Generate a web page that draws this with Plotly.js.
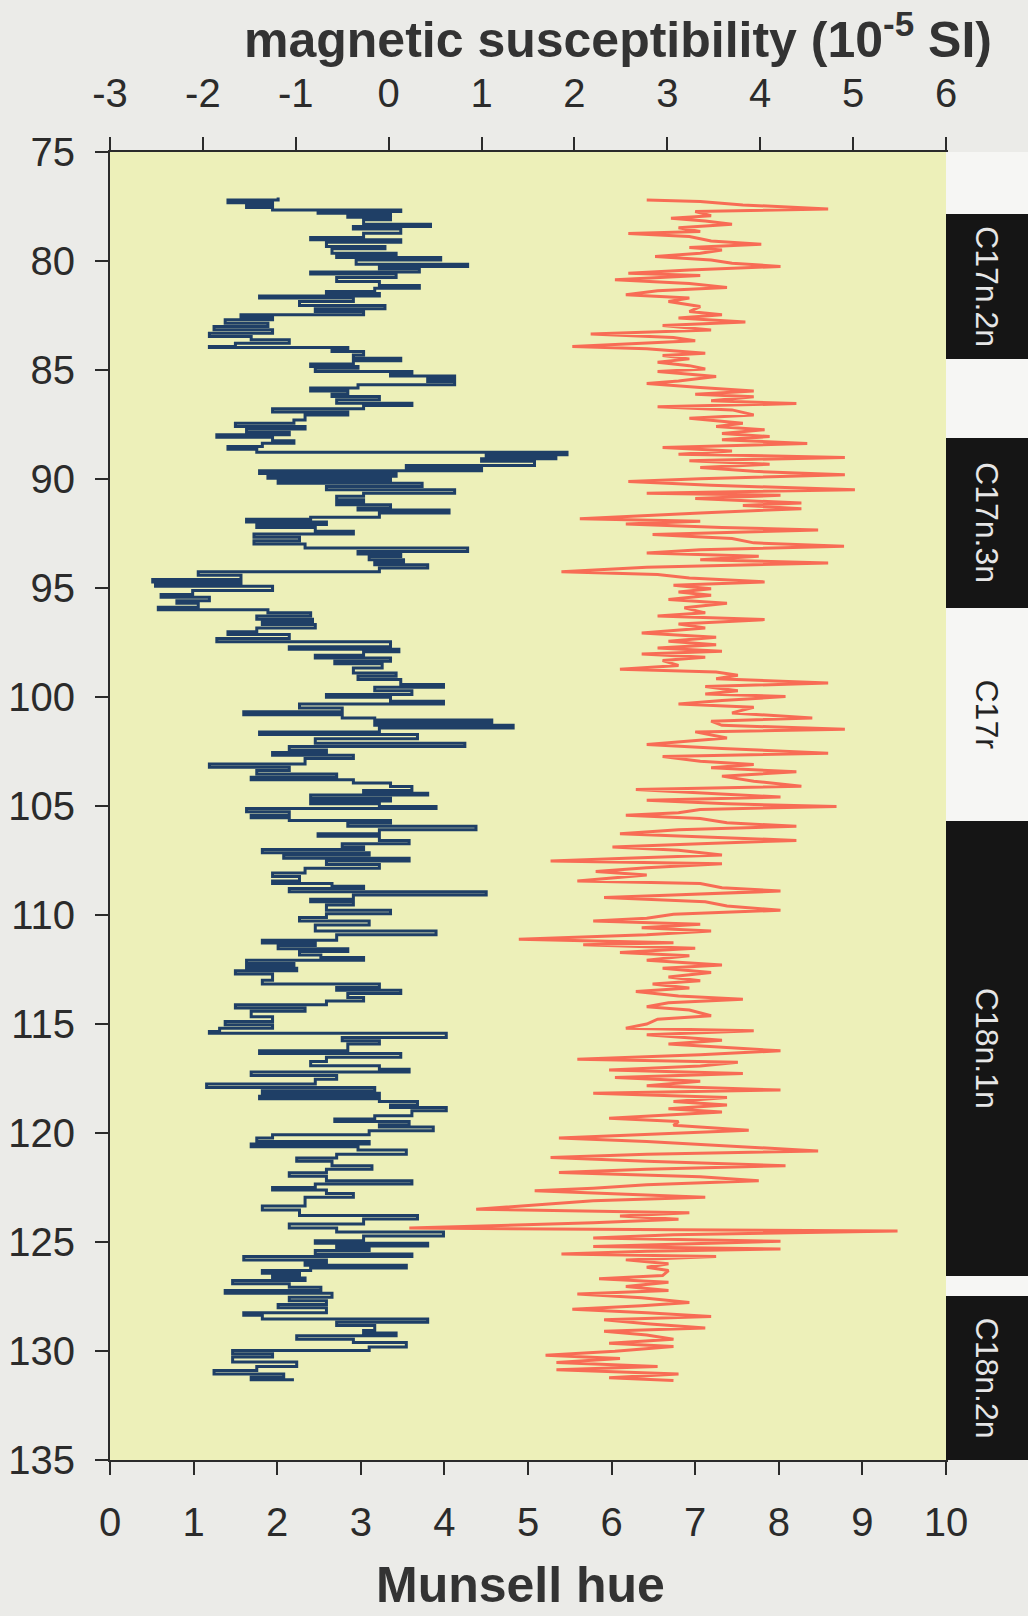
<!DOCTYPE html>
<html>
<head>
<meta charset="utf-8">
<script src="https://cdn.plot.ly/plotly-3.0.1.min.js"></script>
<style>
  html, body { margin: 0; padding: 0; background: #ebebe8; }
  #chart { width: 1028px; height: 1616px; }
</style>
</head>
<body>
<div id="chart"></div>
<script>
// Magnetic susceptibility (10^-5 SI) against depth (m)
const suscDepth = [
  77.09,77.20,77.33,77.42,77.55,77.66,77.73,77.81,77.92,77.99,78.11,78.31,78.42,78.53,78.73,78.92,79.03,79.14,79.34,79.44,79.64,79.75,79.84,79.95,80.15,80.25,80.36,80.51,80.60,80.76,80.94,81.12,81.25,81.40,81.49,81.60,81.70,81.86,82.04,82.19,82.32,82.47,82.59,82.70,82.85,83.00,83.15,83.31,83.46,83.61,83.77,
  83.92,83.97,84.08,84.15,84.31,84.46,84.58,84.73,84.84,84.92,85.07,85.19,85.28,85.41,85.53,85.68,85.83,85.96,86.11,86.22,86.37,86.52,86.63,86.78,86.93,87.06,87.29,87.44,87.59,87.71,87.85,87.97,88.09,88.25,88.36,88.51,88.63,88.77,88.89,88.98,89.07,89.19,89.38,89.50,89.62,89.75,89.87,89.96,90.08,90.20,90.34,90.49,90.65,
  90.79,90.95,91.05,91.18,91.33,91.42,91.56,91.76,91.85,91.97,92.09,92.22,92.40,92.52,92.67,92.83,92.98,93.16,93.32,93.44,93.56,93.70,93.80,93.93,94.08,94.26,94.42,94.61,94.72,94.84,94.92,95.12,95.30,95.42,95.58,95.70,95.88,96.00,96.13,96.28,96.43,96.55,96.68,96.83,97.01,97.13,97.32,97.47,
  97.69,97.81,97.93,98.09,98.21,98.36,98.48,98.67,98.90,99.05,99.20,99.43,99.55,99.71,99.89,100.01,100.20,100.32,100.50,100.68,100.81,100.96,101.05,101.17,101.30,101.42,101.60,101.72,101.91,102.12,102.27,102.43,102.55,102.67,102.82,103.07,103.22,103.37,103.53,103.68,103.80,103.95,104.11,104.29,104.41,
  104.50,104.65,104.77,104.90,105.02,105.11,105.26,105.42,105.54,105.66,105.78,105.93,106.09,106.27,106.39,106.58,106.73,106.88,107.00,107.14,107.25,107.40,107.52,107.68,107.86,108.07,108.23,108.44,108.56,108.68,108.78,108.93,109.08,109.28,109.39,109.54,109.78,109.94,110.12,110.27,110.46,110.73,110.91,111.16,111.28,
  111.40,111.55,111.67,111.83,111.95,112.07,112.22,112.35,112.44,112.56,112.71,112.99,113.17,113.32,113.45,113.60,113.78,113.94,114.12,114.27,114.42,114.67,114.88,115.04,115.19,115.34,115.43,115.62,115.77,115.92,116.23,116.35,116.53,116.72,116.91,117.08,117.20,117.36,117.54,117.75,117.91,118.06,118.18,
  118.31,118.43,118.55,118.71,118.83,118.98,119.21,119.36,119.47,119.62,119.72,119.90,120.08,120.23,120.39,120.51,120.63,120.78,120.97,121.15,121.30,121.50,121.66,121.82,121.98,122.19,122.34,122.50,122.62,122.77,122.95,123.35,123.53,123.79,123.95,124.18,124.36,124.54,124.73,124.94,
  125.06,125.18,125.27,125.39,125.55,125.67,125.82,125.94,126.07,126.19,126.31,126.43,126.55,126.65,126.77,126.92,127.07,127.23,127.35,127.53,127.69,127.87,128.02,128.24,128.36,128.53,128.68,128.83,129.06,129.18,129.30,129.46,129.61,129.82,129.98,130.13,130.28,130.51,130.71,130.89,131.05,131.20,131.32
];
const suscValue = [
  -1.19,-1.73,-1.25,-1.53,-1.25,0.13,-0.76,0.02,-0.44,0.02,-0.27,0.45,-0.38,0.13,-0.27,-0.84,0.13,-0.67,-0.04,-0.61,0.08,-0.56,0.56,-0.35,0.85,-0.10,0.33,-0.84,0.08,-0.56,-0.10,0.33,-0.15,-0.67,-0.10,-1.39,-0.38,-0.96,-0.04,-0.79,-0.27,-1.59,-1.25,-1.76,-1.30,-1.88,-1.25,-1.93,-1.48,-1.07,-1.65,
  -1.93,-0.44,-0.61,-0.27,-0.38,0.13,-0.38,-0.84,-0.33,-0.79,0.25,0.02,0.71,0.42,0.71,-0.33,-0.84,-0.44,-0.61,-0.10,-0.56,0.25,-0.27,-1.25,-0.44,-0.90,-1.02,-1.65,-0.90,-1.53,-1.07,-1.85,-1.25,-1.02,-1.36,-1.73,-1.42,1.92,1.05,1.80,1.00,1.57,0.19,1.00,-1.39,0.08,-1.30,0.02,-1.19,0.36,-0.67,0.71,-0.27,
  -0.56,-0.27,-0.56,0.02,-0.33,0.65,-0.10,-0.84,-1.53,-0.67,-1.42,-0.79,-0.38,-1.45,-0.96,-1.45,-0.90,0.85,-0.33,0.13,-0.21,0.16,-0.15,0.42,-0.10,-2.05,-1.59,-2.54,-1.59,-2.51,-1.25,-2.11,-2.45,-1.93,-2.28,-2.05,-2.48,-1.30,-0.84,-1.42,-0.82,-1.36,-0.79,-1.42,-1.73,-1.07,-1.85,0.02,
  -1.07,0.11,-0.27,-0.79,0.02,-0.58,-0.07,-0.38,0.08,-0.33,0.13,0.59,-0.15,0.25,-0.67,0.02,0.59,-0.96,-0.50,-1.56,-0.50,-0.15,1.11,-0.15,1.34,-0.10,-1.39,0.31,-0.79,0.82,-1.07,-0.67,-1.25,-0.38,-0.90,-1.93,-1.07,-1.42,-0.56,-1.48,-0.38,0.02,0.25,-0.27,0.42,
  -0.84,0.02,-0.84,-0.10,0.51,-1.53,-1.07,-1.48,-1.07,0.02,-0.44,0.94,-0.10,-0.76,-0.10,0.22,-0.50,-0.27,-1.36,-0.21,-1.13,0.22,-0.67,-0.10,-0.90,-1.25,-0.96,-1.25,-0.61,-0.27,-1.07,1.05,-0.38,-0.84,-0.38,-0.67,0.02,-0.67,-0.96,-0.21,-0.79,0.51,-0.56,-1.36,-0.79,
  -1.19,-0.44,-0.96,-0.73,-0.27,-1.53,-1.02,-1.53,-0.99,-1.65,-1.25,-1.36,-0.10,-0.56,0.13,-0.44,-0.27,-0.67,-1.65,-0.90,-1.48,-1.25,-1.76,-1.25,-1.82,-1.93,0.62,-0.50,-0.10,-0.44,-1.39,0.13,-0.67,-0.84,-0.10,0.22,-1.48,-0.56,-0.79,-1.96,-0.15,-1.36,-0.10,
  -1.39,-0.10,0.31,0.02,0.62,0.25,-0.15,-0.58,0.22,-0.10,0.48,-0.21,-1.25,-1.42,-0.21,-1.48,-0.33,0.19,-0.56,-0.99,-0.61,-0.18,-0.67,-1.07,-0.67,0.25,-0.79,-1.25,-0.67,-0.38,-0.90,-1.36,-0.96,0.31,-0.27,-1.07,-0.56,0.59,-0.27,-0.79,
  0.42,-0.56,-0.21,-0.79,0.25,-1.56,-0.67,-0.90,0.19,-0.84,-1.36,-0.96,-1.25,-0.90,-1.68,-1.07,-0.73,-1.76,-0.61,-1.07,-0.67,-1.19,-0.67,-1.56,-1.36,0.42,-0.56,-0.15,-0.27,0.08,-0.99,-0.38,0.19,-0.21,-1.68,-1.25,-1.68,-0.99,-1.42,-1.88,-1.13,-1.48,-1.02
];

// Munsell hue against depth (m)
const hueDepth = [
  77.20,77.27,77.43,77.61,77.73,77.92,78.04,78.16,78.31,78.47,78.65,78.74,78.88,79.08,79.23,79.38,79.50,79.64,79.79,79.95,80.10,80.25,80.41,80.56,80.67,80.86,81.03,81.21,81.37,81.55,81.70,81.86,82.09,82.32,82.47,82.62,82.80,82.96,83.16,83.35,83.51,
  83.66,83.92,84.03,84.23,84.34,84.49,84.64,84.80,84.95,85.07,85.30,85.50,85.62,85.80,85.96,86.11,86.23,86.41,86.54,86.69,86.83,87.06,87.21,87.44,87.59,87.74,87.91,88.05,88.20,88.37,88.55,88.71,88.86,89.01,89.16,89.32,89.47,89.65,89.81,89.99,90.11,90.29,90.49,90.65,
  90.75,90.90,91.10,91.21,91.36,91.56,91.82,91.94,92.06,92.22,92.34,92.55,92.73,92.93,93.09,93.25,93.39,93.54,93.70,93.85,94.05,94.26,94.38,94.54,94.72,94.87,95.03,95.18,95.33,95.53,95.70,95.91,96.14,96.29,96.45,96.65,96.83,97.06,97.26,97.44,
  97.60,97.75,97.90,98.03,98.18,98.33,98.55,98.73,98.85,99.00,99.16,99.36,99.52,99.71,99.86,99.98,100.16,100.32,100.47,100.73,100.96,101.11,101.30,101.48,101.60,101.88,102.18,102.36,102.58,102.73,102.95,103.10,103.25,103.43,103.63,103.86,104.09,104.24,104.40,
  104.59,104.74,104.90,105.02,105.16,105.31,105.42,105.57,105.77,105.93,106.09,106.27,106.42,106.58,106.73,106.88,107.03,107.25,107.40,107.52,107.65,107.83,108.01,108.17,108.44,108.56,108.75,108.90,109.08,109.20,109.39,109.59,109.78,109.97,110.15,110.27,110.43,110.58,110.73,110.91,111.11,111.27,
  111.37,111.52,111.72,111.87,112.07,112.29,112.44,112.64,112.84,113.02,113.17,113.35,113.51,113.71,113.87,114.03,114.21,114.36,114.62,114.78,115.00,115.19,115.31,115.49,115.74,115.92,116.23,116.41,116.62,116.76,116.93,117.11,117.27,117.45,117.63,117.83,118.03,118.18,
  118.37,118.55,118.71,118.89,119.04,119.32,119.47,119.65,119.87,120.05,120.23,120.39,120.59,120.82,120.97,121.12,121.30,121.50,121.66,121.81,122.01,122.19,122.37,122.53,122.65,122.80,122.95,123.11,123.26,123.50,123.66,123.81,123.96,124.12,124.36,124.50,124.67,124.82,124.97,
  125.21,125.32,125.42,125.55,125.67,125.82,126.00,126.16,126.31,126.54,126.69,126.85,127.04,127.23,127.38,127.56,127.78,127.93,128.08,128.24,128.42,128.57,128.75,128.94,129.09,129.27,129.46,129.64,129.79,130.01,130.19,130.34,130.53,130.71,130.86,131.05,131.23,131.35
];
const hueValue = [
  6.42,7.06,7.57,8.59,7.00,7.19,6.71,7.12,7.44,6.80,7.06,6.20,6.93,7.19,7.79,6.93,7.32,7.06,6.52,7.19,7.44,8.02,6.93,6.20,7.06,6.04,6.93,7.38,6.55,6.17,6.93,6.68,7.06,6.93,7.32,6.80,7.60,6.61,7.19,5.75,6.74,
  7.00,5.53,6.42,7.12,6.61,6.93,6.55,6.93,7.12,6.55,7.25,6.80,6.42,7.06,7.70,7.00,7.70,7.19,8.21,6.55,7.44,7.70,6.93,7.57,7.25,7.83,7.32,7.89,7.32,8.34,6.61,7.44,6.80,8.79,6.93,7.89,7.06,7.70,8.79,7.06,6.20,7.19,8.91,6.42,
  8.02,7.00,8.27,7.57,8.27,7.06,5.62,7.06,6.17,7.32,8.47,6.49,7.44,7.70,8.78,7.06,6.42,7.76,7.06,8.59,6.42,5.40,6.55,6.93,7.83,6.74,7.19,6.80,7.19,6.68,7.38,6.87,7.12,6.55,7.83,6.80,7.12,6.36,7.25,6.68,
  7.25,6.55,7.32,6.36,7.12,6.61,6.80,6.10,7.25,7.51,7.25,8.59,7.12,7.51,7.12,8.08,7.32,6.80,7.70,7.44,8.40,7.19,7.32,8.79,7.00,7.38,6.42,7.32,8.59,6.61,7.06,7.70,7.19,8.21,7.32,7.70,8.27,6.29,7.06,
  8.02,6.42,7.38,8.69,7.06,6.80,6.17,7.06,7.38,8.21,6.80,6.10,7.06,8.21,7.06,6.01,6.80,7.32,6.17,5.27,7.32,6.42,5.81,6.42,5.59,7.06,7.32,8.02,6.74,5.91,7.12,7.38,8.02,6.74,6.42,5.78,7.06,6.36,7.19,6.42,4.89,6.74,
  5.66,7.00,6.10,6.93,6.42,7.32,6.61,7.19,6.68,7.06,6.49,6.93,6.29,6.80,7.57,6.68,6.42,6.93,7.19,6.55,6.42,6.17,7.70,6.42,7.32,6.68,8.02,7.06,5.59,7.51,7.06,5.97,7.57,6.04,7.06,6.42,8.02,5.78,
  7.38,6.74,7.38,6.68,7.32,5.97,6.80,6.74,7.64,6.42,5.37,6.42,7.38,8.47,6.42,5.27,6.42,8.08,6.42,5.37,7.06,7.76,6.42,5.78,5.08,6.10,7.12,5.78,5.27,4.38,6.93,6.10,6.80,5.78,3.58,9.42,6.74,5.78,8.02,
  5.78,8.02,6.42,5.40,7.25,6.17,6.68,6.42,6.68,6.61,5.85,6.68,6.17,6.68,5.59,6.36,6.93,6.36,5.53,6.42,7.19,5.91,6.42,7.12,5.91,6.42,6.74,5.97,6.74,6.04,5.21,6.10,5.34,6.55,5.34,6.80,5.97,6.74
];

// Magnetic polarity zones (depth in m); unnamed entries are reversed intervals
const chronName  = ['',    'C17n.2n', '',    'C17n.3n', 'C17r', 'C18n.1n', '',     'C18n.2n'];
const chronTop   = [75.00, 77.84,     84.50, 88.10,     95.90,  105.69,    126.54, 127.48];
const chronBase  = [77.84, 84.50,     88.10, 95.90,     105.69, 126.54,    127.48, 135.00];
const chronNormal = [false, true,     false, true,      false,  true,      false,  true];

// Axis ticks
const depthTicks = [75, 80, 85, 90, 95, 100, 105, 110, 115, 120, 125, 130, 135];
const hueTicks = [0, 1, 2, 3, 4, 5, 6, 7, 8, 9, 10];
const suscTicks = [-3, -2, -1, 0, 1, 2, 3, 4, 5, 6];
const suscTickText = ['-3', '-2', '-1', '0', '1', '2', '3', '4', '5', '6'];

const ink = '#2b2b2b';
const tickFont = { family: 'Liberation Sans, Arial, sans-serif', size: 40, color: ink };
const titleFont = { family: 'Liberation Sans, Arial, sans-serif', size: 50, color: '#333333' };

const suscTrace = {
  type: 'scatter', mode: 'lines',
  x: suscValue, y: suscDepth,
  xaxis: 'x2', yaxis: 'y',
  line: { color: '#1f3f66', width: 3, shape: 'vh' },
  hoverinfo: 'skip'
};

const hueTrace = {
  type: 'scatter', mode: 'lines',
  x: hueValue, y: hueDepth,
  xaxis: 'x', yaxis: 'y',
  line: { color: '#f86c55', width: 3 },
  hoverinfo: 'skip'
};

// Polarity column: one bar trace for the named zones, one for the unnamed gaps
function polarityBars(indices, withText) {
  const trace = {
    type: 'bar',
    xaxis: 'x3', yaxis: 'y',
    x: indices.map(() => 0),
    base: indices.map(i => chronTop[i]),
    y: indices.map(i => chronBase[i] - chronTop[i]),
    width: 1,
    marker: { color: indices.map(i => chronNormal[i] ? '#151515' : '#f6f6f4'), line: { width: 0 } },
    hoverinfo: 'skip'
  };
  if (withText) {
    Object.assign(trace, {
      text: indices.map(i => chronName[i]),
      textposition: 'inside',
      insidetextanchor: 'middle',
      textangle: 90,
      constraintext: 'none',
      textfont: {
        family: 'Liberation Sans, Arial, sans-serif', size: 32,
        color: indices.map(i => chronNormal[i] ? '#e6e6e6' : '#222222')
      }
    });
  } else {
    trace.textposition = 'none';
  }
  return trace;
}
const allZones = chronName.map((_, i) => i);
const namedZones = allZones.filter(i => chronName[i] !== '');
const unnamedZones = allZones.filter(i => chronName[i] === '');

const axisCommon = {
  ticks: 'outside', tickwidth: 2, tickcolor: ink,
  showline: true, linewidth: 2, linecolor: ink,
  showgrid: false, zeroline: false,
  tickfont: tickFont, fixedrange: true
};

const layout = {
  width: 1028, height: 1616,
  margin: { l: 110, r: 0, t: 152, b: 156, pad: 0 },
  paper_bgcolor: '#ebebe8',
  plot_bgcolor: '#edf0b9',
  showlegend: false,
  barmode: 'overlay', bargap: 0,
  xaxis: Object.assign({}, axisCommon, {
    domain: [0, 0.9107], range: [0, 10], anchor: 'y', side: 'bottom',
    tickvals: hueTicks, ticklen: 13, ticklabelstandoff: 13
  }),
  xaxis2: Object.assign({}, axisCommon, {
    overlaying: 'x', range: [-3, 6], anchor: 'y', side: 'top',
    tickvals: suscTicks, ticktext: suscTickText, ticklen: 13, ticklabelstandoff: 14
  }),
  xaxis3: {
    domain: [0.9107, 1], range: [-0.5, 0.5], anchor: 'y',
    visible: false, fixedrange: true
  },
  yaxis: Object.assign({}, axisCommon, {
    domain: [0, 1], range: [135, 75], anchor: 'x',
    tickvals: depthTicks, ticklen: 13, mirror: true, ticklabelstandoff: 12
  }),
  annotations: [
    {
      text: '<b>magnetic susceptibility (10<sup>-5</sup> SI)</b>',
      xref: 'paper', yref: 'paper', x: 0.5534, y: 1.089,
      xanchor: 'center', yanchor: 'middle', showarrow: false, font: titleFont
    },
    {
      text: '<b>Munsell hue</b>',
      xref: 'paper', yref: 'paper', x: 0.4477, y: -0.1185,
      xanchor: 'center', yanchor: 'bottom', showarrow: false, font: titleFont
    }
  ]
};

Plotly.newPlot('chart', [
  polarityBars(unnamedZones, false),
  polarityBars(namedZones, true),
  hueTrace, suscTrace
], layout, { displayModeBar: false, staticPlot: true });
</script>
</body>
</html>
